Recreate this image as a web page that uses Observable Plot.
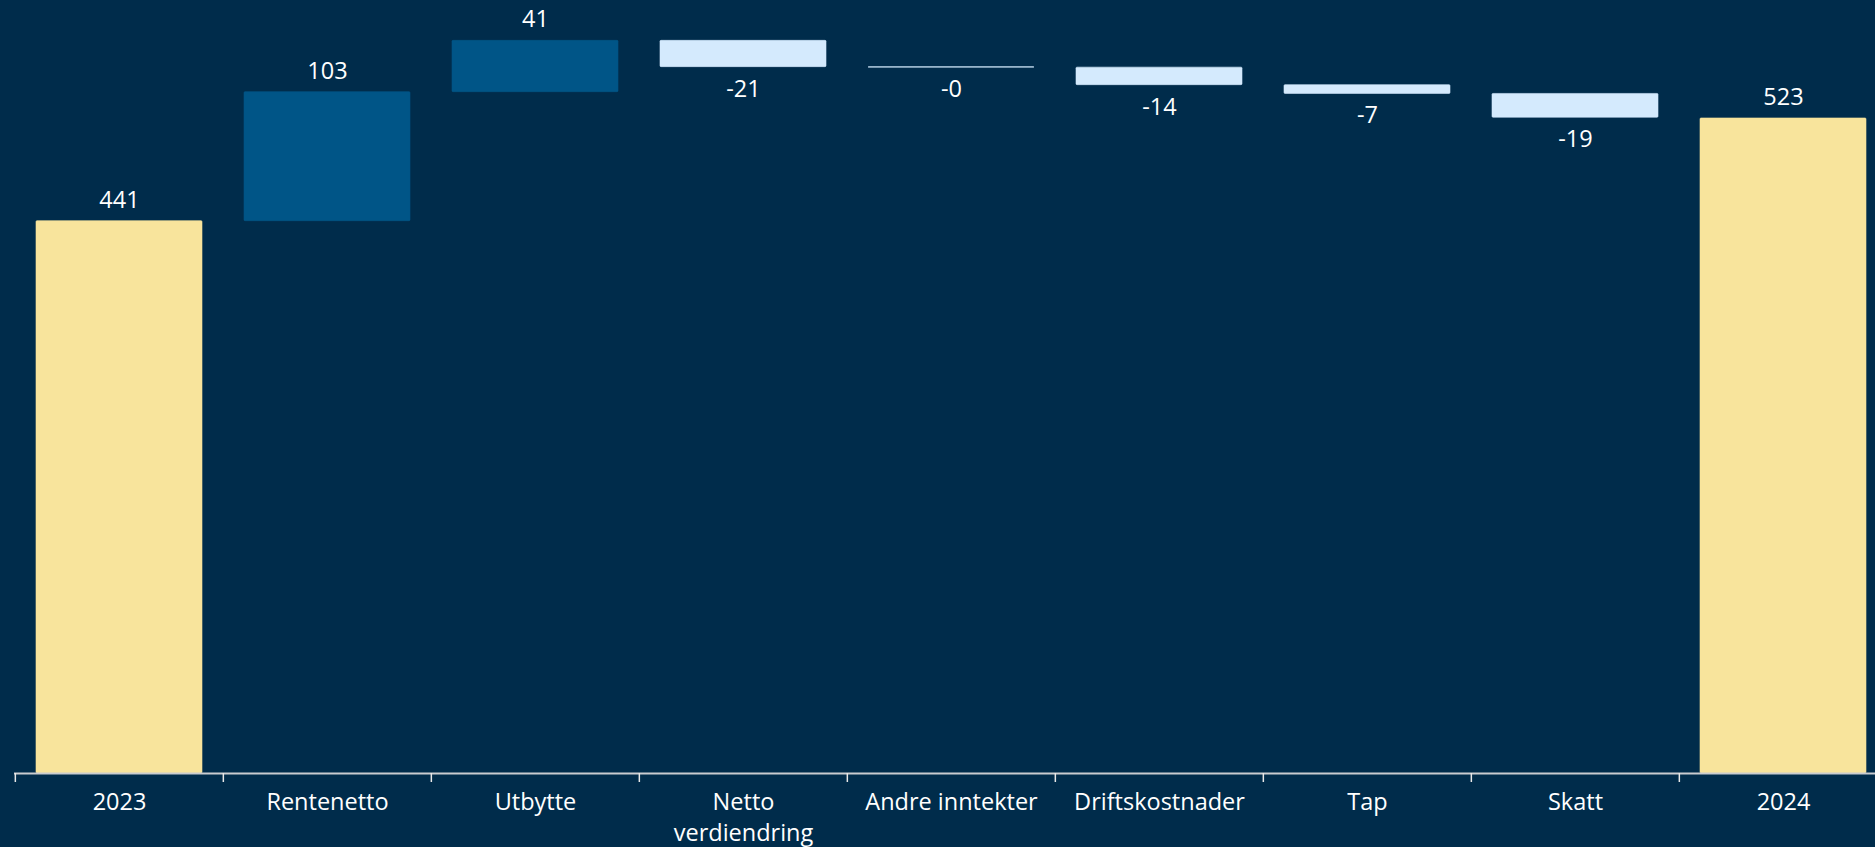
<!DOCTYPE html>
<html>
<head>
<meta charset="utf-8">
<script src="https://cdn.jsdelivr.net/npm/d3@7"></script>
<script src="https://cdn.jsdelivr.net/npm/@observablehq/plot@0.6"></script>
<style>
  html, body { margin: 0; padding: 0; background: #002c4b; overflow: hidden; }
  #chart svg { max-width: none !important; display: block; }
</style>
</head>
<body>
<div id="chart"></div>
<script>
const categories = ["2023", "Rentenetto", "Utbytte", "Netto verdiendring", "Andre inntekter", "Driftskostnader", "Tap", "Skatt", "2024"];
const tickLabels = ["2023", "Rentenetto", "Utbytte", "Netto\nverdiendring", "Andre inntekter", "Driftskostnader", "Tap", "Skatt", "2024"];
const values = [441, 103, 41, -21, -0.4, -14, -7, -19, 523];
const kinds = ["total", "delta", "delta", "delta", "delta", "delta", "delta", "delta", "total"];

const colors = { total: "#f8e49c", up: "#005587", down: "#d4eafd" };

let running = 0;
const rows = categories.map((cat, i) => {
  const v = values[i];
  let start, end, type;
  if (kinds[i] === "total") {
    start = 0; end = v; running = v; type = "total";
  } else {
    start = running; end = running + v; running = end; type = v >= 0 ? "up" : "down";
  }
  const label = (v < 0 ? "-" : "") + Math.abs(Math.round(v));
  return { cat, value: v, start, end, type, label, top: Math.max(start, end), bottom: Math.min(start, end) };
});

const W = 1889, H = 847, mL = 14, mR = 0;
const step = (W - mL - mR) / categories.length;
const FS = 23.5;

const chart = Plot.plot({
  width: W,
  height: H,
  marginLeft: mL,
  marginRight: mR,
  marginTop: 0,
  marginBottom: 74,
  style: { background: "#002c4b", color: "#ffffff", fontFamily: "'Open Sans', sans-serif", fontSize: FS + "px", overflow: "visible", maxWidth: "none" },
  x: { domain: categories, paddingInner: 0.2, paddingOuter: 0.1, axis: null },
  y: { domain: [0, 617.2], axis: null },
  color: { domain: ["total", "up", "down"], range: [colors.total, colors.up, colors.down] },
  marks: [
    Plot.barY(rows, { x: "cat", y1: "start", y2: "end", fill: "type", stroke: "type", strokeWidth: 0.6, rx: 1 }),
    Plot.ruleY([0], { stroke: "#c9ccd0", strokeWidth: 2 }),
    Plot.ruleX(categories, { x: d => d, y1: 0, y2: 0, insetBottom: -9, dx: -step / 2, stroke: "#e8e8e8", strokeWidth: 1.5 }),
    Plot.text(rows.filter(d => d.type !== "down"), { x: "cat", y: "top", text: "label", dy: -21, fill: "#ffffff", fontSize: FS }),
    Plot.text(rows.filter(d => d.type === "down"), { x: "cat", y: "bottom", text: "label", dy: 22, fill: "#ffffff", fontSize: FS }),
    Plot.text(categories, { x: d => d, frameAnchor: "bottom", text: (d, i) => tickLabels[i], lineAnchor: "top", dy: 14, lineHeight: 1.32, fill: "#ffffff", fontSize: FS })
  ]
});

document.getElementById("chart").appendChild(chart);
</script>
</body>
</html>
